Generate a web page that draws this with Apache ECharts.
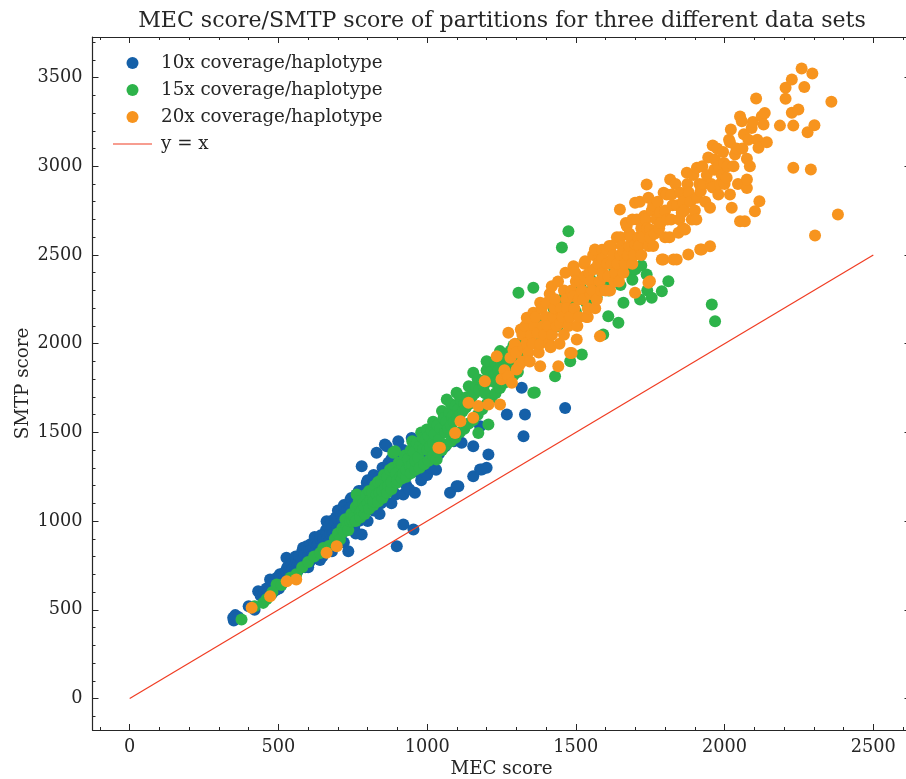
<!DOCTYPE html>
<html>
<head>
<meta charset="utf-8">
<script src="https://cdn.jsdelivr.net/npm/echarts@6/dist/echarts.min.js"></script>
<style>html,body{margin:0;padding:0;background:#fff;overflow:hidden;}#c{width:906px;height:779px;}</style>
</head>
<body>
<div id="c"></div>
<script>
// ---- data (MEC score, SMTP score) ----
const seriesNames = ['10x coverage/haplotype', '15x coverage/haplotype', '20x coverage/haplotype', 'y = x'];

const blueData = [
[348,455],[350,440],[355,470],[365,460],[400,520],[420,500],[432,605],[440,580],[450,590],[455,560],[460,620],[465,600],[472,671],[478,590],[480,640],[485,650],[490,610],[495,680],[500,660],[502,620],[505,700],[510,640],[512,700],[518,660],[520,690],[525,720],[527,793],[530,740],[535,720],[538,700],[540,680],[542,780],[545,760],[548,730],[550,700],[555,750],[558,800],[560,780],[562,740],[565,720],[568,770],[570,800],[575,760],[578,790],[580,830],[583,850],[585,790],[588,810],[590,740],[595,858],[598,780],[600,740],[600,810],[603,840],[605,770],[608,870],[610,840],[612,800],[615,790],[618,850],[620,880],[622,910],[625,830],[628,790],[630,860],[633,870],[635,800],[638,830],[640,780],[640,900],[643,920],[645,850],[648,800],[650,880],[652,900],[655,830],[658,860],[660,950],[662,999],[663,930],[665,900],[668,970],[670,870],[672,890],[675,930],[678,1000],[680,830],[680,960],[683,930],[685,900],[688,870],[690,990],[693,1020],[695,940],[698,960],[700,1010],[700,1060],[703,900],[705,960],[707,1056],[710,920],[712,1030],[715,1000],[718,970],[720,880],[720,1040],[720,1090],[722,1080],[725,980],[728,1010],[730,1060],[732,950],[735,830],[738,1060],[740,1000],[742,1120],[745,1080],[745,1130],[748,990],[750,1020],[752,1090],[755,960],[758,1040],[760,930],[760,1100],[762,1150],[765,1040],[768,1080],[770,1000],[770,1170],[772,1020],[775,1120],[778,1170],[780,924],[780,1309],[783,1110],[785,1060],[788,1050],[790,1100],[793,1150],[797,1216],[798,1080],[800,1000],[800,1140],[800,1230],[803,1190],[805,1080],[808,1120],[810,1160],[815,1120],[818,1210],[820,1060],[820,1260],[823,1130],[825,1180],[828,1090],[830,1385],[835,1140],[838,1250],[840,1040],[840,1200],[843,1170],[845,1100],[848,1220],[850,1300],[852,1130],[853,1253],[855,1180],[858,1432],[860,1220],[862,1270],[864,1422],[868,1190],[870,1329],[872,1300],[875,1260],[878,1240],[880,1100],[880,1200],[880,1350],[883,1180],[886,1329],[890,1280],[893,1320],[895,1150],[898,858],[900,1250],[903,1450],[908,1360],[910,1240],[915,1290],[920,981],[920,1150],[920,1400],[922,1340],[925,1300],[930,1200],[935,1270],[940,1180],[940,1340],[945,1390],[948,1469],[952,1330],[954,953],[959,1160],[962,1400],[965,1280],[970,1330],[975,1360],[980,1230],[982,1440],[990,1310],[995,1350],[1000,1260],[1000,1380],[1010,1300],[1020,1350],[1030,1290],[1040,1380],[1060,1420],[1077,1160],[1090,1450],[1099,1197],[1105,1197],[1116,1441],[1155,1253],[1155,1422],[1178,1291],[1178,1535],[1184,1291],[1200,1300],[1206,1375],[1268,1601],[1318,1751],[1324,1478],[1329,1601],[1464,1638]
];

const greenData = [
[376,445],[420,520],[449,539],[460,560],[480,600],[494,643],[510,640],[540,680],[560,700],[580,740],[600,770],[620,800],[640,820],[651,849],[670,860],[690,900],[700,930],[707,896],[715,960],[720,940],[725,1010],[730,970],[735,950],[741,999],[745,1040],[750,1000],[755,1020],[760,1000],[760,1080],[763,1150],[770,1110],[774,1047],[775,1020],[780,1060],[785,1100],[790,1040],[790,1080],[795,1150],[800,1100],[805,1070],[805,1170],[810,1120],[815,1160],[820,1090],[820,1110],[825,1200],[830,1150],[835,1110],[835,1220],[840,1160],[845,1230],[850,1130],[850,1170],[855,1260],[860,1190],[865,1160],[865,1250],[870,1200],[875,1290],[880,1180],[880,1220],[885,1300],[886,1385],[892,1394],[895,1270],[898,1216],[900,1230],[905,1330],[910,1250],[915,1240],[915,1320],[920,1270],[925,1370],[930,1250],[930,1290],[935,1350],[942,1309],[945,1270],[945,1400],[950,1320],[950,1450],[955,1390],[960,1290],[960,1340],[965,1440],[970,1360],[975,1300],[975,1420],[980,1500],[985,1470],[987,1403],[990,1320],[995,1460],[999,1516],[1000,1400],[1005,1340],[1005,1480],[1010,1420],[1015,1510],[1020,1370],[1020,1440],[1020,1560],[1025,1490],[1032,1347],[1035,1390],[1035,1540],[1040,1460],[1045,1520],[1050,1400],[1050,1620],[1054,1422],[1055,1580],[1060,1500],[1065,1430],[1065,1560],[1066,1685],[1070,1520],[1075,1610],[1080,1450],[1080,1540],[1080,1660],[1085,1590],[1090,1560],[1095,1470],[1095,1650],[1099,1723],[1100,1580],[1105,1630],[1110,1500],[1110,1600],[1110,1700],[1115,1680],[1120,1620],[1125,1520],[1125,1660],[1130,1640],[1135,1700],[1140,1550],[1140,1660],[1140,1760],[1145,1690],[1150,1700],[1155,1570],[1155,1836],[1160,1720],[1165,1760],[1170,1600],[1170,1800],[1172,1497],[1175,1740],[1185,1630],[1185,1790],[1190,1760],[1195,1720],[1200,1660],[1200,1850],[1200,1901],[1206,1544],[1210,1790],[1215,1690],[1215,1840],[1225,1820],[1230,1720],[1230,1780],[1230,1890],[1240,1850],[1245,1750],[1245,1958],[1250,1900],[1260,1780],[1260,1880],[1260,1930],[1265,1850],[1275,1800],[1275,1900],[1280,1960],[1290,1820],[1290,1930],[1290,1990],[1295,1870],[1300,1960],[1305,1840],[1307,2287],[1310,2000],[1315,1990],[1325,1940],[1330,2010],[1340,1990],[1345,2040],[1355,2060],[1357,1723],[1357,2315],[1362,1725],[1370,2070],[1375,2000],[1385,2100],[1390,2130],[1400,2120],[1410,2060],[1415,2140],[1425,2200],[1430,1817],[1430,2160],[1440,2100],[1445,2180],[1453,2542],[1455,2250],[1460,2200],[1470,2150],[1475,2634],[1481,1901],[1485,2290],[1490,2230],[1500,2180],[1505,2250],[1515,2320],[1520,1939],[1525,2270],[1535,2230],[1540,2290],[1550,2360],[1560,2310],[1570,2260],[1580,2330],[1590,2390],[1592,2052],[1600,2350],[1609,2155],[1610,2300],[1620,2380],[1630,2420],[1643,2118],[1650,2330],[1660,2230],[1670,2450],[1680,2400],[1690,2360],[1700,2420],[1716,2249],[1720,2440],[1738,2390],[1740,2300],[1755,2259],[1789,2296],[1811,2352],[1957,2221],[1968,2127]
];

const orangeData = [
[410,511],[472,577],[528,661],[560,671],[662,821],[696,858],[1038,1413],[1043,1413],[1094,1497],[1112,1563],[1139,1667],[1155,1582],[1172,1648],[1194,1788],[1206,1657],[1234,1929],[1245,1657],[1250,1800],[1260,1850],[1268,1808],[1273,1817],[1273,2061],[1280,1920],[1285,1780],[1290,1967],[1295,2000],[1300,1950],[1301,1854],[1310,1880],[1315,2080],[1320,1900],[1320,2050],[1325,1980],[1330,2100],[1335,2005],[1335,2146],[1340,1950],[1345,1900],[1350,2050],[1355,2000],[1357,2174],[1360,2100],[1365,2150],[1370,2060],[1375,1950],[1380,1873],[1380,2000],[1380,2230],[1385,2200],[1390,2100],[1395,2050],[1400,2150],[1402,2230],[1405,2100],[1410,2000],[1412,2280],[1415,1980],[1419,2324],[1420,2050],[1425,2150],[1428,2200],[1430,2250],[1435,2100],[1440,2350],[1441,1873],[1445,2000],[1447,2117],[1450,2200],[1455,2150],[1460,2050],[1460,2300],[1465,2400],[1468,2250],[1470,2200],[1475,2100],[1480,2150],[1481,1948],[1485,2300],[1486,1948],[1492,2268],[1492,2436],[1495,2200],[1498,2400],[1500,2350],[1503,2023],[1505,2100],[1510,2150],[1510,2250],[1515,2350],[1520,2300],[1525,2250],[1528,2450],[1530,2380],[1531,2465],[1535,2150],[1540,2150],[1540,2200],[1545,2400],[1550,2280],[1550,2350],[1555,2300],[1558,2500],[1560,2420],[1564,2531],[1565,2200],[1570,2250],[1575,2450],[1580,2350],[1581,2042],[1585,2300],[1588,2530],[1590,2400],[1590,2480],[1595,2380],[1600,2300],[1604,2531],[1605,2450],[1610,2380],[1612,2550],[1615,2300],[1620,2450],[1620,2550],[1625,2500],[1630,2350],[1632,2400],[1638,2600],[1640,2450],[1645,2350],[1648,2756],[1650,2500],[1650,2600],[1655,2550],[1660,2400],[1660,2520],[1665,2450],[1668,2680],[1671,2663],[1675,2500],[1680,2550],[1680,2620],[1685,2600],[1690,2450],[1690,2700],[1695,2500],[1699,2287],[1699,2794],[1700,2560],[1705,2700],[1710,2600],[1712,2550],[1715,2800],[1720,2500],[1720,2650],[1725,2600],[1730,2720],[1735,2700],[1738,2897],[1740,2650],[1744,2343],[1744,2822],[1745,2550],[1749,2352],[1749,2644],[1750,2600],[1755,2750],[1760,2550],[1760,2780],[1765,2620],[1770,2700],[1775,2800],[1780,2650],[1783,2738],[1785,2680],[1789,2474],[1794,2474],[1795,2850],[1800,2600],[1800,2750],[1805,2841],[1808,2700],[1815,2600],[1817,2925],[1820,2700],[1822,2841],[1825,2780],[1828,2474],[1835,2900],[1839,2474],[1840,2780],[1845,2625],[1848,2700],[1852,2850],[1856,2738],[1860,2650],[1860,2800],[1865,2750],[1867,2644],[1873,2963],[1875,2900],[1878,2502],[1880,2850],[1885,2800],[1890,2700],[1895,2950],[1900,2750],[1905,2700],[1907,2822],[1907,2991],[1915,2900],[1918,2531],[1920,2860],[1923,2531],[1925,3000],[1930,2900],[1935,2800],[1940,2950],[1945,3050],[1951,2549],[1951,2766],[1955,2900],[1960,2880],[1960,3117],[1965,2980],[1968,3038],[1975,3100],[1979,2841],[1980,3000],[1985,2900],[1990,2950],[1995,3080],[1998,3019],[2000,2900],[2007,2935],[2010,3000],[2015,3150],[2018,2841],[2018,3135],[2021,3207],[2024,2766],[2030,3000],[2035,3066],[2040,3100],[2045,2900],[2052,2690],[2052,3280],[2058,3254],[2060,3100],[2065,3180],[2068,2690],[2075,2878],[2075,2925],[2075,3042],[2080,3150],[2085,3000],[2091,3216],[2095,3250],[2102,2747],[2106,3382],[2110,3150],[2114,3104],[2117,2803],[2125,3282],[2131,3235],[2135,3300],[2142,3135],[2186,3229],[2205,3380],[2205,3442],[2226,3301],[2226,3489],[2231,2991],[2231,3229],[2248,3320],[2259,3551],[2268,3447],[2279,3192],[2290,2982],[2295,3523],[2302,3231],[2304,2610],[2359,3363],[2381,2728]
];

const lineData = [[0,0],[2500,2500]];

// ---- axes ----
const xMajor = [0,500,1000,1500,2000,2500];
const xMinor = [-100,100,200,300,400,600,700,800,900,1100,1200,1300,1400,1600,1700,1800,1900,2100,2200,2300,2400,2600];
const yMajor = [0,500,1000,1500,2000,2500,3000,3500];
const yMinor = [-100,100,200,300,400,600,700,800,900,1100,1200,1300,1400,1600,1700,1800,1900,2100,2200,2300,2400,2600,2700,2800,2900,3100,3200,3300,3400,3600,3700];
const xRange = [-125, 2625];
const yRange = [-177.5, 3728.5];

const FONT = 'DejaVu Serif';
const TXT = '#262626';
const AX = '#262626';
const colors = ['#1560A8', '#2DB34A', '#F7941E', '#F03C22'];

function mkAxis(kind, pos, major, ticks, len, showLine, showLabel, range, name) {
  const a = {
    type: 'value', position: pos, min: range[0], max: range[1], gridIndex: 0,
    splitLine: {show: false},
    axisLine: {show: showLine, onZero: false, lineStyle: {color: AX, width: 1.2}},
    axisTick: {show: true, inside: true, length: len, customValues: ticks, lineStyle: {color: AX, width: 1}},
    axisLabel: {show: showLabel, customValues: major, fontFamily: FONT, fontSize: 17.7, color: TXT,
                margin: kind === 'x' ? 8 : 10,
                formatter: function (v) { return String(v); }},
    minorTick: {show: false}
  };
  if (name) {
    a.name = name; a.nameLocation = 'middle';
    a.nameMoveOverlap = false;
    a.nameTextStyle = {fontFamily: FONT, fontSize: 18.3, color: TXT};
    a.nameGap = kind === 'x' ? 30 : 60;
  }
  return a;
}

const chart = echarts.init(document.getElementById('c'), null, {renderer: 'canvas'});
chart.setOption({
  animation: false,
  backgroundColor: '#ffffff',
  color: colors,
  title: {
    text: 'MEC score/SMTP score of partitions for three different data sets',
    left: 497, top: 5, textAlign: 'center',
    textStyle: {fontFamily: FONT, fontWeight: 'normal', fontSize: 22.1, color: TXT}
  },
  grid: {left: 92.5, width: 818, top: 37, height: 693, containLabel: false, outerBoundsMode: 'none'},
  legend: {
    orient: 'vertical', left: 108, top: 49,
    itemWidth: 39, itemHeight: 12, itemGap: 9,
    textStyle: {fontFamily: FONT, fontSize: 18.3, color: TXT, padding: [0,0,0,4]},
    data: [
      {name: seriesNames[0], icon: 'circle'},
      {name: seriesNames[1], icon: 'circle'},
      {name: seriesNames[2], icon: 'circle'},
      {name: seriesNames[3], icon: 'path://M0,0h40v1.2h-40z', itemStyle: {color: colors[3]}}
    ]
  },
  xAxis: [
    mkAxis('x', 'bottom', xMajor, xMajor, 6, true, true, xRange, 'MEC score'),
    mkAxis('x', 'bottom', xMajor, xMinor, 3, false, false, xRange),
    mkAxis('x', 'top', xMajor, xMajor, 6, true, false, xRange),
    mkAxis('x', 'top', xMajor, xMinor, 3, false, false, xRange)
  ],
  yAxis: [
    mkAxis('y', 'left', yMajor, yMajor, 6, true, true, yRange, 'SMTP score'),
    mkAxis('y', 'left', yMajor, yMinor, 3, false, false, yRange),
    mkAxis('y', 'right', yMajor, yMajor, 6, true, false, yRange),
    mkAxis('y', 'right', yMajor, yMinor, 3, false, false, yRange)
  ],
  series: [
    {name: seriesNames[0], type: 'scatter', data: blueData, symbolSize: 12, itemStyle: {color: colors[0], opacity: 1}, xAxisIndex: 0, yAxisIndex: 0},
    {name: seriesNames[1], type: 'scatter', data: greenData, symbolSize: 12, itemStyle: {color: colors[1], opacity: 1}, xAxisIndex: 0, yAxisIndex: 0},
    {name: seriesNames[2], type: 'scatter', data: orangeData, symbolSize: 12, itemStyle: {color: colors[2], opacity: 1}, xAxisIndex: 0, yAxisIndex: 0},
    {name: seriesNames[3], type: 'line', data: lineData, symbol: 'none', showSymbol: false, lineStyle: {color: colors[3], width: 1.2}, itemStyle: {color: colors[3]}, xAxisIndex: 0, yAxisIndex: 0}
  ]
});
</script>
</body>
</html>
